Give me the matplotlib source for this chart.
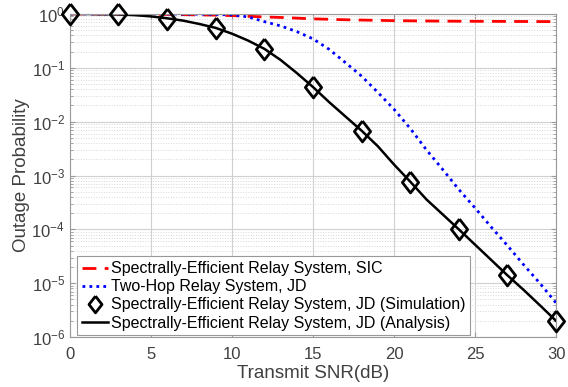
import matplotlib.pyplot as plt
from matplotlib.ticker import LogLocator, NullFormatter

plt.rcParams['font.family'] = ['Liberation Sans', 'DejaVu Sans']

# SNR grid (dB)
snr = list(range(31))

# Spectrally-efficient relay, SIC
p_sic = [1.0, 1.0, 0.998, 0.995, 0.99, 0.985, 0.98, 0.97, 0.96, 0.95, 0.93,
         0.905, 0.88, 0.86, 0.835, 0.81, 0.795, 0.78, 0.77, 0.76, 0.75,
         0.745, 0.74, 0.735, 0.732, 0.73, 0.728, 0.726, 0.724, 0.722, 0.72]

# Two-hop relay, JD
p_twohop = [1.0, 1.0, 1.0, 1.0, 1.0, 1.0, 1.0, 0.995, 0.99, 0.98, 0.96,
            0.88, 0.72, 0.6, 0.47, 0.345, 0.22, 0.125, 0.07, 0.035, 0.017,
            7.5e-3, 3.0e-3, 1.3e-3, 5.5e-4, 2.5e-4, 1.1e-4, 5.0e-5, 2.2e-5,
            1.0e-5, 4.3e-6]

# Spectrally-efficient relay, JD (analysis)
p_jd = [1.0, 1.0, 0.99, 0.98, 0.95, 0.9, 0.83, 0.75, 0.65, 0.55, 0.43,
        0.32, 0.225, 0.14, 0.08, 0.044, 0.023, 0.0125, 6.8e-3, 3.5e-3,
        1.6e-3, 7.7e-4, 3.6e-4, 1.9e-4, 1.0e-4, 5.2e-5, 2.7e-5, 1.4e-5,
        7.5e-6, 3.9e-6, 2.0e-6]

# simulation points
snr_sim = [0, 3, 6, 9, 12, 15, 18, 21, 24, 27, 30]
p_sim = [1.0, 1.0, 0.82, 0.55, 0.225, 0.044, 6.8e-3, 7.7e-4, 1.0e-4,
         1.4e-5, 2.0e-6]

diamond = [(0, 1), (0.78, 0), (0, -1), (-0.78, 0), (0, 1)]

fig = plt.figure(figsize=(5.68, 3.87), dpi=100)
ax = fig.add_axes([0.123, 0.129, 0.856, 0.835])

ax.semilogy(snr, p_sic, color='red', linestyle=(0, (5, 3)), linewidth=2,
            label='Spectrally-Efficient Relay System, SIC')
ax.semilogy(snr, p_twohop, color='blue', linestyle=(0, (1, 1.5)), linewidth=2,
            label='Two-Hop Relay System, JD')
ax.semilogy(snr_sim, p_sim, linestyle='none', marker=diamond, markersize=15,
            markerfacecolor='none', markeredgecolor='black', markeredgewidth=2,
            clip_on=False, zorder=5,
            label='Spectrally-Efficient Relay System, JD (Simulation)')
ax.semilogy(snr, p_jd, color='black', linewidth=1.8,
            label='Spectrally-Efficient Relay System, JD (Analysis)')

ax.set_xlim(0, 30)
ax.set_ylim(1e-6, 1)
ax.set_xticks([0, 5, 10, 15, 20, 25, 30])
ax.yaxis.set_major_locator(LogLocator(base=10, numticks=10))
ax.yaxis.set_minor_locator(LogLocator(base=10, subs=range(2, 10), numticks=10))
ax.yaxis.set_minor_formatter(NullFormatter())

ax.grid(True, which='major', color='#d0d0d0', linewidth=0.8)
ax.grid(True, which='minor', axis='y', color='#d8d8d8', linestyle=':', linewidth=0.7)
ax.set_axisbelow(True)

for s in ax.spines.values():
    s.set_color('#999999')
ax.tick_params(which='both', direction='in', colors='#999999', labelcolor='#404040',
               labelsize=12, top=True, right=True)
ax.tick_params(axis='x', pad=7)
ax.tick_params(which='minor', length=2)

ax.set_xlabel('Transmit SNR(dB)', fontsize=13.5, color='#404040', labelpad=2)
ax.set_ylabel('Outage Probability', fontsize=13.5, color='#404040', labelpad=1)

leg = ax.legend(loc='lower left', bbox_to_anchor=(0.012, 0.0), fontsize=11.5,
                handlelength=1.6, handletextpad=0.2, borderpad=0.3,
                labelspacing=0.2, fancybox=False, framealpha=1,
                edgecolor='#999999', borderaxespad=0.1, markerscale=0.8)
leg.get_frame().set_linewidth(0.8)

plt.savefig('out.png', dpi=100)
